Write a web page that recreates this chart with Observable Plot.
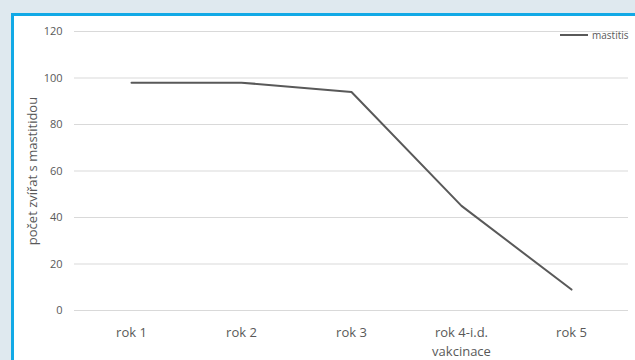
<!DOCTYPE html>
<html>
<head>
<meta charset="utf-8">
<script src="https://cdn.jsdelivr.net/npm/d3@7"></script>
<script src="https://cdn.jsdelivr.net/npm/@observablehq/plot@0.6"></script>
<style>
  html, body { margin: 0; padding: 0; }
  body { width: 635px; height: 360px; background: #dfe9ef; position: relative; overflow: hidden; font-family: "Open Sans", sans-serif; }
  #panel { position: absolute; left: 11px; top: 13px; right: 0; bottom: 0; background: #fff; border-left: 3px solid #12a9e6; border-top: 3px solid #12a9e6; }
  #chart { position: absolute; left: 0; top: 0; }
  #legend { position: absolute; left: 560px; top: 28px; font-size: 10px; color: #595959; display: flex; align-items: center; gap: 4px; }
  #legend .sw { width: 28px; height: 2px; background: #595959; }
</style>
</head>
<body>
<div id="panel"></div>
<div id="chart"></div>
<div id="legend"><span class="sw"></span><span>mastitis</span></div>
<script>
// Počet zvířat s mastitidou v jednotlivých letech
const categories = ["rok 1", "rok 2", "rok 3", "rok 4-i.d. vakcinace", "rok 5"];
const mastitis = [98, 98, 94, 45, 9];
const yTicks = [0, 20, 40, 60, 80, 100, 120];

const rows = categories.map((c, i) => ({rok: c, value: mastitis[i]}));

const chart = Plot.plot({
  width: 635,
  height: 360,
  marginLeft: 74,
  marginRight: 7,
  marginTop: 31,
  marginBottom: 50,
  style: {background: "transparent", fontFamily: "Open Sans, sans-serif", color: "#595959"},
  x: {type: "point", domain: categories, padding: 0.5},
  y: {domain: [0, 120], ticks: yTicks},
  marks: [
    Plot.ruleY(yTicks, {stroke: "#d9d9d9", strokeWidth: 1}),
    Plot.axisY({ticks: yTicks, tickSize: 0, tickPadding: 12, fontSize: 11, label: null}),
    Plot.axisY({ticks: [], tickSize: 0, fontSize: 13,
      label: "počet zvířat s mastitidou", labelAnchor: "center", labelArrow: "none", labelOffset: 47}),
    Plot.axisX({tickSize: 0, tickPadding: 14, fontSize: 13, lineHeight: 1.4, label: null,
      tickFormat: d => d.replace(" vakcinace", "\nvakcinace")}),
    Plot.line(rows, {x: "rok", y: "value", stroke: "#595959", strokeWidth: 2})
  ]
});
document.getElementById("chart").appendChild(chart);
</script>
</body>
</html>
